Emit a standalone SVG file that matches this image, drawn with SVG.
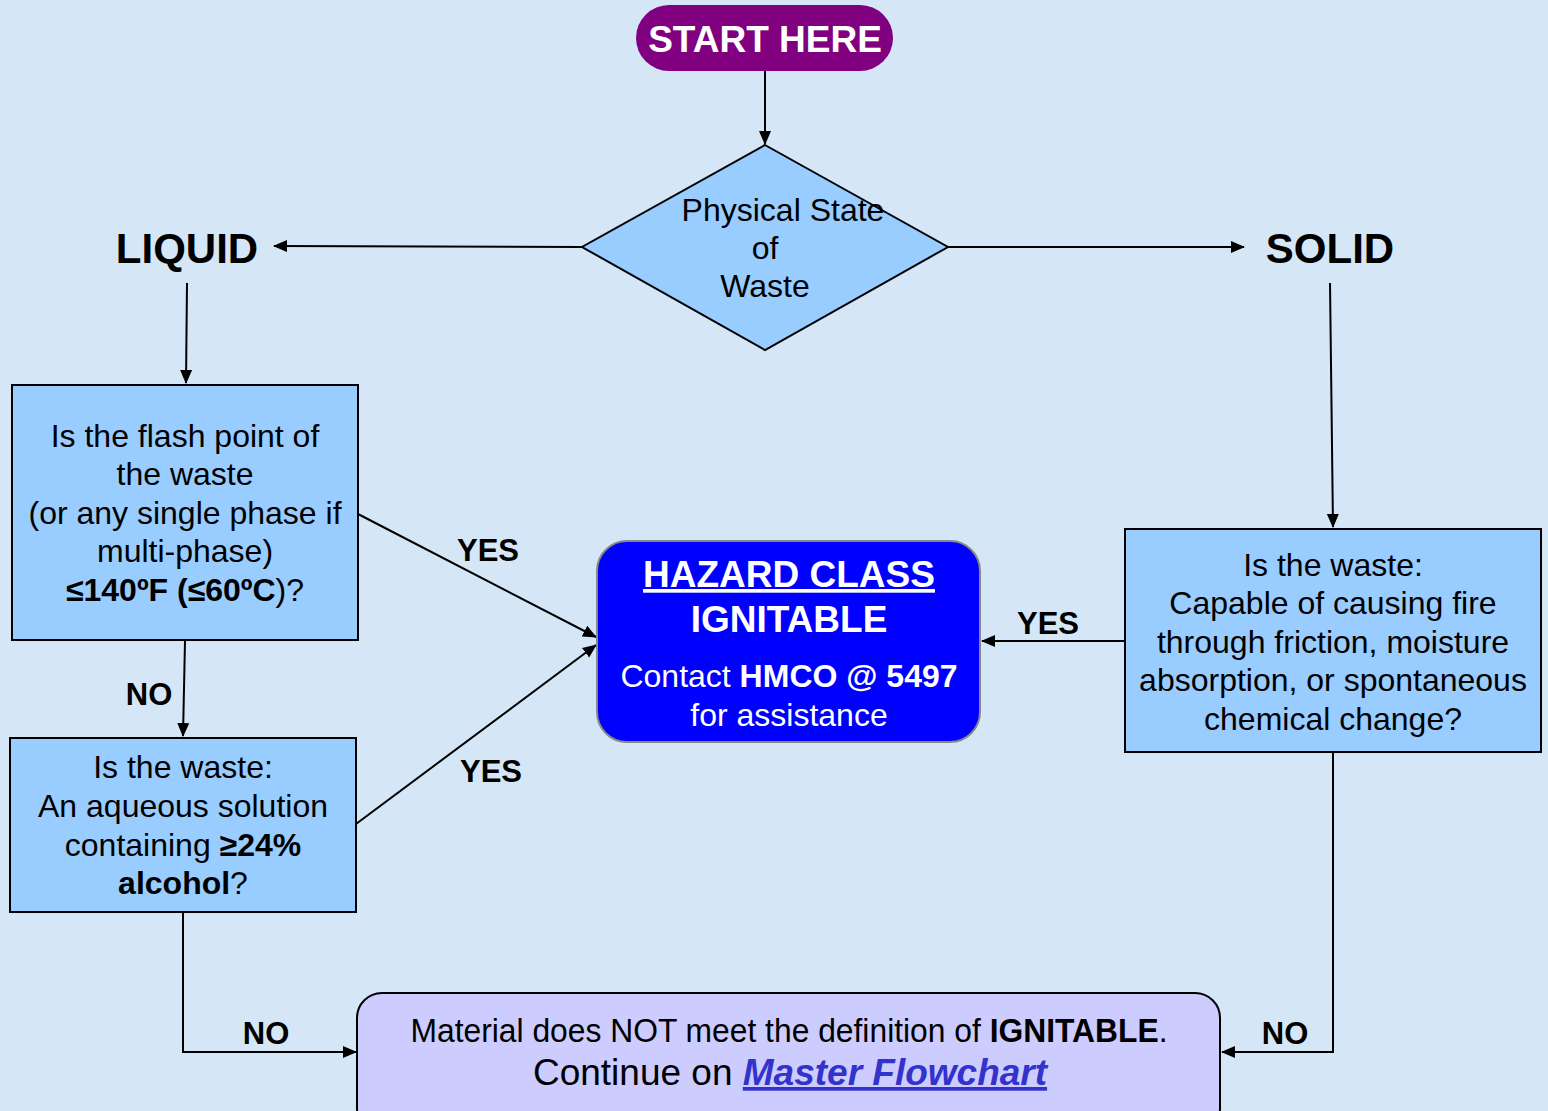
<svg xmlns="http://www.w3.org/2000/svg" width="1548" height="1111" viewBox="0 0 1548 1111">
<defs>
<marker id="ah" markerWidth="14" markerHeight="14" refX="13" refY="6" orient="auto" markerUnits="userSpaceOnUse" viewBox="0 0 14 12">
<path d="M0,0 L14,6 L0,12 z" fill="#000"/>
</marker>
<style>
text{font-family:"Liberation Sans",Arial,sans-serif;}
.box{fill:#99ccff;stroke:#000;stroke-width:2;}
.t{font-size:32px;fill:#000;text-anchor:middle;}
.lbl{font-size:31px;font-weight:bold;fill:#000;text-anchor:middle;}
.big{font-size:42px;font-weight:bold;fill:#000;text-anchor:middle;}
.c{stroke:#000;stroke-width:2;fill:none;marker-end:url(#ah);}
.b{font-weight:bold;}
</style>
</defs>
<rect x="0" y="0" width="1548" height="1111" fill="#d5e6f6"/>

<g id="connectors">
<line class="c" x1="765" y1="71" x2="765" y2="144"/>
<line class="c" x1="582" y1="247" x2="274" y2="246"/>
<line class="c" x1="948" y1="247" x2="1244" y2="247"/>
<line class="c" x1="187" y1="283" x2="186" y2="383"/>
<line class="c" x1="1330" y1="283" x2="1333" y2="527"/>
<line class="c" x1="185" y1="641" x2="183" y2="736"/>
<line class="c" x1="358" y1="514" x2="596" y2="637"/>
<line class="c" x1="356" y1="824" x2="596" y2="645"/>
<line class="c" x1="1125" y1="641" x2="982" y2="641"/>
<polyline class="c" points="183,912 183,1052 356,1052"/>
<polyline class="c" points="1333,752 1333,1052 1222,1052"/>
<text class="lbl" x="488" y="561">YES</text>
<text class="lbl" x="491" y="782">YES</text>
<text class="lbl" x="1048" y="634">YES</text>
<text class="lbl" x="149" y="705">NO</text>
<text class="lbl" x="266" y="1044">NO</text>
<text class="lbl" x="1285" y="1044">NO</text>
</g>

<g id="start">
<rect x="636" y="5" width="257" height="66" rx="33" fill="#800080"/>
<text x="765" y="52" font-size="37" font-weight="bold" fill="#fff" text-anchor="middle">START HERE</text>
</g>

<g id="diamond">
<polygon class="box" points="765,145 948,247 765,350 582,247"/>
<text class="t" x="783" y="221">Physical State</text>
<text class="t" x="765" y="259">of</text>
<text class="t" x="765" y="297">Waste</text>
</g>

<g id="liquid"><text class="big" x="187" y="263">LIQUID</text></g>
<g id="solid"><text class="big" x="1330" y="263">SOLID</text></g>

<g id="flashpoint">
<rect class="box" x="12" y="385" width="346" height="255"/>
<text class="t" x="185" y="447">Is the flash point of</text>
<text class="t" x="185" y="485">the waste</text>
<text class="t" x="185" y="524">(or any single phase if</text>
<text class="t" x="185" y="562">multi-phase)</text>
<text class="t" x="185" y="601"><tspan class="b">≤140ºF (≤60ºC</tspan>)?</text>
</g>

<g id="aqueous">
<rect class="box" x="10" y="738" width="346" height="174"/>
<text class="t" x="183" y="778">Is the waste:</text>
<text class="t" x="183" y="817">An aqueous solution</text>
<text class="t" x="183" y="856">containing <tspan class="b">≥24%</tspan></text>
<text class="t" x="183" y="894"><tspan class="b">alcohol</tspan>?</text>
</g>

<g id="solidq">
<rect class="box" x="1125" y="529" width="416" height="223"/>
<text class="t" x="1333" y="576">Is the waste:</text>
<text class="t" x="1333" y="614">Capable of causing fire</text>
<text class="t" x="1333" y="653">through friction, moisture</text>
<text class="t" x="1333" y="691">absorption, or spontaneous</text>
<text class="t" x="1333" y="730">chemical change?</text>
</g>

<g id="hazard">
<rect x="597" y="541" width="383" height="201" rx="30" fill="#0000ff" stroke="#888" stroke-width="2"/>
<text x="789" y="587" font-size="37" font-weight="bold" fill="#fff" text-anchor="middle" text-decoration="underline">HAZARD CLASS</text>
<text x="789" y="632" font-size="37" font-weight="bold" fill="#fff" text-anchor="middle">IGNITABLE</text>
<text x="789" y="687" font-size="32" fill="#fff" text-anchor="middle">Contact <tspan font-weight="bold">HMCO @ 5497</tspan></text>
<text x="789" y="726" font-size="32" fill="#fff" text-anchor="middle">for assistance</text>
</g>

<g id="notignitable">
<rect x="357" y="993" width="863" height="140" rx="25" fill="#ccccff" stroke="#000" stroke-width="2"/>
<g transform="translate(789,1042) scale(0.936,1)">
<text x="0" y="0" font-size="34" fill="#000" text-anchor="middle">Material does NOT meet the definition of <tspan font-weight="bold">IGNITABLE</tspan>.</text>
</g>
<text x="790" y="1085" font-size="37" fill="#000" text-anchor="middle">Continue on <tspan font-weight="bold" font-style="italic" fill="#3333cc" text-decoration="underline">Master Flowchart</tspan></text>
</g>
</svg>
